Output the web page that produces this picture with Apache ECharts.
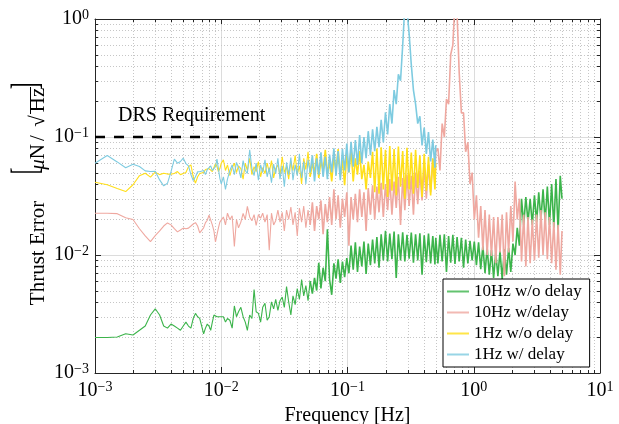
<!DOCTYPE html>
<html>
<head>
<meta charset="utf-8">
<script src="https://cdn.jsdelivr.net/npm/echarts@6/dist/echarts.min.js"></script>
<style>
  html, body { margin: 0; padding: 0; background: #fff; }
  #chart { width: 619px; height: 424px; }
</style>
</head>
<body>
<div id="chart"></div>
<script>
// Frequency grids [Hz]
const freqLow = [
  0.001, 0.00125, 0.0015, 0.00175, 0.002, 0.00225, 0.0025, 0.00275, 0.003, 0.00325,
  0.0035, 0.00375, 0.004, 0.00425, 0.0045, 0.00475, 0.005, 0.00525, 0.0055, 0.00575,
  0.006, 0.00625, 0.0065, 0.00675, 0.007, 0.00725, 0.0075, 0.00775, 0.008, 0.00825,
  0.0085, 0.00875, 0.009, 0.00925, 0.0095, 0.00975, 0.01
];
const freqMid = [
  0.0104, 0.0108, 0.0112, 0.0117, 0.0122, 0.0127, 0.0132, 0.0137, 0.0143, 0.0149,
  0.0155, 0.0161, 0.0168, 0.0175, 0.0182, 0.0189, 0.0197, 0.0205, 0.0213, 0.0222,
  0.0231, 0.024, 0.025, 0.026, 0.027, 0.0281, 0.0292, 0.0304, 0.0316, 0.0329,
  0.0342, 0.0356, 0.037, 0.0385, 0.04, 0.0416, 0.0433, 0.045, 0.0468, 0.0487,
  0.0506, 0.0527, 0.0548, 0.057, 0.0592, 0.0616, 0.0641, 0.0667, 0.0693, 0.0721,
  0.075, 0.078, 0.0811, 0.0843, 0.0877, 0.0912, 0.0949, 0.0987, 0.1026, 0.1067,
  0.111, 0.1154, 0.12, 0.1248, 0.1298, 0.135, 0.1404, 0.146, 0.1519, 0.158,
  0.1643, 0.1709, 0.1777, 0.1848, 0.1922, 0.1999, 0.2079, 0.2162, 0.2249, 0.2339,
  0.2432, 0.2529, 0.2631, 0.2736, 0.2845, 0.2959, 0.3078, 0.3201, 0.3329, 0.3462,
  0.36, 0.3744, 0.3894, 0.405, 0.4212, 0.438, 0.4555, 0.4738, 0.4927, 0.5
];
const freqHigh = [
  0.52, 0.54, 0.562, 0.585, 0.608, 0.632, 0.657, 0.683, 0.71, 0.738,
  0.767, 0.798, 0.83, 0.863, 0.898, 0.934, 0.971, 1.01, 1.05, 1.092,
  1.136, 1.181, 1.228, 1.277, 1.328, 1.381, 1.436, 1.494, 1.553, 1.615,
  1.68, 1.747, 1.817, 1.89, 1.965, 2.044, 2.126, 2.211, 2.299, 2.391,
  2.487, 2.586, 2.69, 2.797, 2.909, 3.026, 3.147, 3.272, 3.403, 3.539,
  3.681, 3.828, 3.981, 4.141, 4.306, 4.479, 4.658, 4.844, 5.0
];
// 1 Hz runs stop at 0.5 Hz, 10 Hz runs at 5 Hz
const freq1Hz = freqLow.concat(freqMid);
const freq10Hz = freq1Hz.concat(freqHigh);

// Thrust error spectral density [uN/sqrt(Hz)]
const noDelay10Hz = [
  0.0020, 0.0020, 0.00202, 0.00215, 0.0021, 0.0023, 0.0025, 0.0031, 0.0035, 0.0031,
  0.0025, 0.0024, 0.0026, 0.0025, 0.0024, 0.0023, 0.0025, 0.0027, 0.0025, 0.0024,
  0.0029, 0.0032, 0.0030, 0.0029, 0.0025, 0.00215, 0.0024, 0.0026, 0.0025, 0.0023,
  0.0027, 0.0031, 0.0030, 0.0030, 0.0029, 0.0030, 0.0029,
  0.0030, 0.0027, 0.0029, 0.0028, 0.0024, 0.0037, 0.0030, 0.0033, 0.0036, 0.0030,
  0.0027, 0.0023, 0.0031, 0.0029, 0.0051, 0.0033, 0.0032, 0.0027, 0.0036, 0.0039,
  0.0028, 0.0030, 0.0040, 0.0035, 0.0042, 0.0034, 0.0041, 0.0044, 0.0036, 0.0054,
  0.0040, 0.0031, 0.0045, 0.0038, 0.0052, 0.0042, 0.0062, 0.0045, 0.0055, 0.0041,
  0.0060, 0.0047, 0.0064, 0.0050, 0.0086, 0.0052, 0.0078, 0.0060, 0.0165, 0.0062,
  0.0046, 0.0085, 0.0063, 0.0092, 0.0058, 0.0088, 0.0065, 0.0094, 0.0070, 0.0120,
  0.0075, 0.0128, 0.0072, 0.0118, 0.0080, 0.0130, 0.0069, 0.0125, 0.0082, 0.0135,
  0.0085, 0.0142, 0.0078, 0.0150, 0.0090, 0.0160, 0.0088, 0.0152, 0.0092, 0.0158,
  0.0064, 0.0150, 0.0090, 0.0156, 0.0088, 0.0148, 0.0093, 0.0155, 0.0086, 0.0150,
  0.0090, 0.0153, 0.0068, 0.0147, 0.0087, 0.0152, 0.0085, 0.0145, 0.0083, 0.0140,
  0.0085, 0.0148, 0.0088, 0.0150, 0.0072, 0.0145, 0.0086, 0.0148, 0.0084, 0.0142,
  0.0088, 0.0140, 0.0078, 0.0135, 0.0085, 0.0132, 0.0090, 0.0130, 0.0082, 0.0128,
  0.0076, 0.0120, 0.0070, 0.0115, 0.0068, 0.0110, 0.0064, 0.0105, 0.0066, 0.0108,
  0.0062, 0.0112, 0.0068, 0.0115, 0.0072, 0.0125, 0.0100, 0.0170, 0.0120, 0.030,
  0.018, 0.031, 0.019, 0.030, 0.018, 0.032, 0.019, 0.034, 0.020, 0.036,
  0.019, 0.038, 0.018, 0.040, 0.017, 0.044, 0.016, 0.047, 0.030
];
const withDelay10Hz = [
  0.0226, 0.0226, 0.0224, 0.0207, 0.020, 0.0167, 0.0145, 0.0130, 0.0146, 0.0160,
  0.0176, 0.0187, 0.0180, 0.0167, 0.0157, 0.0163, 0.0169, 0.0167, 0.0169, 0.0176,
  0.0183, 0.0188, 0.0176, 0.0154, 0.0150, 0.0170, 0.0188, 0.0197, 0.0218, 0.0226,
  0.0180, 0.0160, 0.0129, 0.0128, 0.0170, 0.019, 0.019,
  0.021, 0.018, 0.0226, 0.020, 0.0215, 0.0118, 0.020, 0.017, 0.019, 0.0225,
  0.020, 0.0258, 0.021, 0.0195, 0.022, 0.0178, 0.022, 0.0205, 0.0226, 0.019,
  0.022, 0.011, 0.0226, 0.018, 0.0195, 0.024, 0.019, 0.023, 0.016, 0.024,
  0.020, 0.0255, 0.018, 0.023, 0.0145, 0.025, 0.019, 0.026, 0.017, 0.024,
  0.018, 0.028, 0.016, 0.026, 0.020, 0.029, 0.015, 0.027, 0.019, 0.031,
  0.018, 0.036, 0.020, 0.032, 0.017, 0.030, 0.021, 0.034, 0.012, 0.031,
  0.020, 0.033, 0.019, 0.036, 0.021, 0.034, 0.016, 0.037, 0.022, 0.039,
  0.020, 0.038, 0.023, 0.041, 0.021, 0.040, 0.024, 0.044, 0.022, 0.042,
  0.025, 0.046, 0.018, 0.045, 0.024, 0.048, 0.026, 0.047, 0.022, 0.050,
  0.027, 0.052, 0.029, 0.056, 0.030, 0.058, 0.034, 0.065, 0.040, 0.075,
  0.08, 0.052, 0.13, 0.10, 0.21, 0.19, 0.50, 0.60, 1.4, 1.1,
  0.35, 0.16, 0.16, 0.075, 0.09, 0.04, 0.05, 0.02, 0.032, 0.014,
  0.026, 0.011, 0.024, 0.010, 0.022, 0.0098, 0.021, 0.0085, 0.021, 0.0105,
  0.022, 0.0066, 0.023, 0.0105, 0.026, 0.013, 0.042, 0.020, 0.030, 0.0088,
  0.022, 0.008, 0.021, 0.0085, 0.020, 0.009, 0.022, 0.0095, 0.024, 0.010,
  0.023, 0.0092, 0.021, 0.0085, 0.019, 0.0075, 0.018, 0.0068, 0.016
];
const noDelay1Hz = [
  0.0414, 0.0394, 0.0366, 0.0345, 0.0394, 0.0470, 0.0493, 0.0457, 0.0503, 0.048,
  0.0493, 0.0485, 0.0485, 0.049, 0.051, 0.048, 0.049, 0.050, 0.056, 0.058,
  0.046, 0.0406, 0.046, 0.049, 0.048, 0.050, 0.053, 0.054, 0.054, 0.056,
  0.051, 0.052, 0.0595, 0.056, 0.051, 0.054, 0.060,
  0.064, 0.052, 0.058, 0.047, 0.055, 0.060, 0.050, 0.057, 0.054, 0.044,
  0.060, 0.052, 0.066, 0.048, 0.056, 0.051, 0.062, 0.046, 0.055, 0.049,
  0.060, 0.050, 0.063, 0.045, 0.054, 0.058, 0.047, 0.068, 0.050, 0.056,
  0.044, 0.062, 0.052, 0.070, 0.048, 0.057, 0.040, 0.066, 0.053, 0.075,
  0.046, 0.060, 0.050, 0.072, 0.045, 0.063, 0.052, 0.078, 0.049, 0.061,
  0.042, 0.068, 0.052, 0.079, 0.046, 0.064, 0.039, 0.072, 0.050, 0.078,
  0.042, 0.066, 0.048, 0.076, 0.044, 0.058, 0.036, 0.062, 0.045, 0.075,
  0.034, 0.080, 0.033, 0.082, 0.036, 0.078, 0.031, 0.084, 0.035, 0.079,
  0.032, 0.083, 0.038, 0.076, 0.030, 0.081, 0.036, 0.074, 0.033, 0.078,
  0.037, 0.070, 0.031, 0.072, 0.035, 0.068, 0.032, 0.066, 0.036, 0.060
];
const withDelay1Hz = [
  0.060, 0.0696, 0.0615, 0.0548, 0.0588, 0.0562, 0.0516, 0.051, 0.0513, 0.0433,
  0.0385, 0.0405, 0.0508, 0.0649, 0.060, 0.062, 0.0661, 0.0595, 0.057, 0.048,
  0.0428, 0.046, 0.0508, 0.0508, 0.049, 0.052, 0.048, 0.053, 0.055, 0.057,
  0.052, 0.051, 0.056, 0.065, 0.066, 0.0446, 0.040,
  0.046, 0.036, 0.044, 0.052, 0.058, 0.048, 0.061, 0.055, 0.045, 0.063,
  0.052, 0.049, 0.078, 0.054, 0.047, 0.060, 0.043, 0.058, 0.050, 0.064,
  0.046, 0.055, 0.041, 0.059, 0.049, 0.066, 0.044, 0.057, 0.038, 0.061,
  0.048, 0.067, 0.043, 0.058, 0.047, 0.072, 0.045, 0.062, 0.040, 0.064,
  0.050, 0.070, 0.042, 0.066, 0.048, 0.074, 0.046, 0.068, 0.044, 0.071,
  0.050, 0.080, 0.047, 0.076, 0.043, 0.079, 0.052, 0.088, 0.050, 0.091,
  0.056, 0.094, 0.058, 0.104, 0.060, 0.100, 0.066, 0.112, 0.070, 0.116,
  0.076, 0.122, 0.082, 0.140, 0.090, 0.162, 0.105, 0.190, 0.130, 0.250,
  0.190, 0.340, 0.300, 0.600, 1.30, 1.20, 0.75, 0.41, 0.25, 0.19,
  0.13, 0.15, 0.085, 0.12, 0.072, 0.11, 0.062, 0.095, 0.055, 0.085
];

// Requirement level and its frequency span
const drsLevel = 0.1;
const drsSpan = [0.001, 0.03];

const seriesNames = ['10Hz w/o delay', '10Hz w/delay', '1Hz w/o delay', '1Hz w/ delay'];
const seriesColors = ['#3cb44b', '#efa8a0', '#ffdf1a', '#7ecbe0'];

// Above this frequency the spectra are dense noise bands, stroked a little heavier
const denseFrom = 0.05;

// Decade boundaries and in-between minor positions (2..9 per decade)
const xDecades = [0.001, 0.01, 0.1, 1];
const yDecades = [0.001, 0.01, 0.1];
const minorSteps = [2, 3, 4, 5, 6, 7, 8, 9];
const minorX = [];
xDecades.forEach(d => minorSteps.forEach(m => minorX.push(+(d * m).toPrecision(3))));
const minorY = [];
yDecades.forEach(d => minorSteps.forEach(m => minorY.push(+(d * m).toPrecision(3))));

const FONT = '"Liberation Serif", "Times New Roman", serif';
const AXIS_COLOR = '#262626';

function pairs(freq, vals) {
  return freq.map((f, i) => [f, vals[i]]);
}

function powerLabel(value) {
  const e = Math.round(Math.log10(value));
  return '{b|10}{s|' + (e < 0 ? '\u2212' + (-e) : String(e)) + '}';
}
const labelRich = {
  b: { fontFamily: FONT, fontSize: 20, color: '#000', lineHeight: 22 },
  s: { fontFamily: FONT, fontSize: 14, color: '#000', lineHeight: 14, verticalAlign: 'top' }
};

const tickStyle = { stroke: AXIS_COLOR, lineWidth: 1 };
const dotStyle = { stroke: '#c6c6c6', lineWidth: 1, lineDash: [1, 2] };

function xMinorItem(params, api) {
  const cs = params.coordSys;
  const x = Math.round(api.coord([api.value(0), api.value(1)])[0]) + 0.5;
  const top = cs.y, bottom = cs.y + cs.height;
  return {
    type: 'group',
    children: [
      { type: 'line', shape: { x1: x, y1: top, x2: x, y2: bottom }, style: dotStyle },
      { type: 'line', shape: { x1: x, y1: bottom, x2: x, y2: bottom - 3 }, style: tickStyle },
      { type: 'line', shape: { x1: x, y1: top, x2: x, y2: top + 3 }, style: tickStyle }
    ]
  };
}
function yMinorItem(params, api) {
  const cs = params.coordSys;
  const y = Math.round(api.coord([api.value(0), api.value(1)])[1]) + 0.5;
  const left = cs.x, right = cs.x + cs.width;
  return {
    type: 'group',
    children: [
      { type: 'line', shape: { x1: left, y1: y, x2: right, y2: y }, style: dotStyle },
      { type: 'line', shape: { x1: left, y1: y, x2: left + 3, y2: y }, style: tickStyle },
      { type: 'line', shape: { x1: right, y1: y, x2: right - 3, y2: y }, style: tickStyle }
    ]
  };
}

function logAxis(min, max, pos, main, extra) {
  return Object.assign({
    type: 'log', logBase: 10, min: min, max: max, position: pos,
    axisLine: { show: true, onZero: false, lineStyle: { color: AXIS_COLOR, width: 1 } },
    axisTick: { show: true, inside: true, length: 6, lineStyle: { color: AXIS_COLOR, width: 1 } },
    axisLabel: main
      ? { formatter: powerLabel, rich: labelRich, showMinLabel: true, showMaxLabel: true }
      : { show: false },
    splitLine: { show: main, lineStyle: { color: '#dcdcdc', width: 1 } },
    minorTick: { show: false },
    minorSplitLine: { show: false }
  }, extra || {});
}

const xMain = logAxis(0.001, 10, 'bottom', true, {
  name: 'Frequency [Hz]', nameLocation: 'middle', nameGap: 27,
  nameTextStyle: { fontFamily: FONT, fontSize: 20, color: '#000' }
});
xMain.axisLabel.margin = 7;
const yMain = logAxis(0.001, 1, 'left', true);
yMain.axisLabel.margin = 6;

// each spectrum: a thin sparse part and a heavier dense part sharing one point
const lineSeries = [];
[noDelay10Hz, withDelay10Hz, noDelay1Hz, withDelay1Hz].forEach((vals, i) => {
  const pts = pairs(i < 2 ? freq10Hz : freq1Hz, vals);
  const cut = pts.findIndex(p => p[0] >= denseFrom);
  [[pts.slice(0, cut + 1), 1.1], [pts.slice(cut), 1.6]].forEach(([part, w]) => {
    lineSeries.push({
      name: seriesNames[i],
      type: 'line',
      data: part,
      symbol: 'none',
      showSymbol: false,
      lineStyle: { width: w, color: seriesColors[i] },
      itemStyle: { color: seriesColors[i] },
      clip: true,
      z: 2
    });
  });
});

const chart = echarts.init(document.getElementById('chart'), null, { renderer: 'canvas' });
chart.setOption({
  animation: false,
  backgroundColor: '#fff',
  grid: { left: 95, right: 19, top: 19, bottom: 51, containLabel: false, outerBoundsMode: 'none' },
  xAxis: [xMain, logAxis(0.001, 10, 'top', false)],
  yAxis: [yMain, logAxis(0.001, 1, 'right', false)],
  legend: {
    data: seriesNames,
    orient: 'vertical',
    left: 443, top: 279,
    icon: 'rect',
    itemWidth: 22, itemHeight: 2, itemGap: 2,
    itemStyle: { opacity: 0.8 },
    padding: [3, 8, 3, 4],
    backgroundColor: '#fff',
    borderColor: '#000', borderWidth: 1, borderRadius: 0,
    selectedMode: false,
    textStyle: { fontFamily: FONT, fontSize: 17, lineHeight: 19, color: '#000' }
  },
  series: [
    {
      type: 'custom', renderItem: xMinorItem, silent: true, z: 1,
      data: minorX.map(v => [v, 0.01]), encode: { x: 0, y: 1 }
    },
    {
      type: 'custom', renderItem: yMinorItem, silent: true, z: 1,
      data: minorY.map(v => [0.01, v]), encode: { x: 0, y: 1 }
    }
  ].concat(lineSeries, [{
    name: 'DRS Requirement',
    type: 'line',
    data: drsSpan.map(f => [f, drsLevel]),
    symbol: 'none',
    silent: true,
    lineStyle: { color: '#000', width: 2.5, type: [10, 9] },
    z: 3
  }]),
  graphic: [
    {
      type: 'text', x: 118, y: 116, silent: true,
      style: { text: 'DRS Requirement', font: '20px ' + FONT, fill: '#000', align: 'left', verticalAlign: 'middle' }
    },
    // rotated y-axis title pieces
    {
      type: 'text', x: 38, y: 253, rotation: Math.PI / 2, silent: true,
      style: { text: 'Thrust Error', font: '21px ' + FONT, fill: '#000', align: 'center', verticalAlign: 'middle' }
    },
    {
      type: 'text', x: 27, y: 171, rotation: Math.PI / 2, scaleY: 1.85, silent: true,
      style: { text: '[', font: '20px ' + FONT, fill: '#000', align: 'center', verticalAlign: 'middle' }
    },
    {
      type: 'text', x: 38, y: 157, rotation: Math.PI / 2, silent: true,
      style: {
        text: '{i|\u03bc}{r|N}', align: 'center', verticalAlign: 'middle',
        rich: {
          i: { font: 'italic 21px ' + FONT, fill: '#000' },
          r: { font: '21px ' + FONT, fill: '#000' }
        }
      }
    },
    {
      type: 'text', x: 38, y: 138, rotation: Math.PI / 2, silent: true,
      style: { text: '/', font: '21px ' + FONT, fill: '#000', align: 'center', verticalAlign: 'middle' }
    },
    {
      type: 'text', x: 38, y: 121, rotation: Math.PI / 2, silent: true,
      style: { text: '\u221a', font: '21px ' + FONT, fill: '#000', align: 'center', verticalAlign: 'middle' }
    },
    {
      type: 'text', x: 38, y: 100, rotation: Math.PI / 2, silent: true,
      style: { text: 'Hz', font: '21px ' + FONT, fill: '#000', align: 'center', verticalAlign: 'middle' }
    },
    {
      type: 'line', silent: true,
      shape: { x1: 30.5, y1: 114, x2: 30.5, y2: 87 },
      style: { stroke: '#000', lineWidth: 1 }
    },
    {
      type: 'text', x: 27, y: 86, rotation: Math.PI / 2, scaleY: 1.85, silent: true,
      style: { text: ']', font: '20px ' + FONT, fill: '#000', align: 'center', verticalAlign: 'middle' }
    }
  ]
});
</script>
</body>
</html>
